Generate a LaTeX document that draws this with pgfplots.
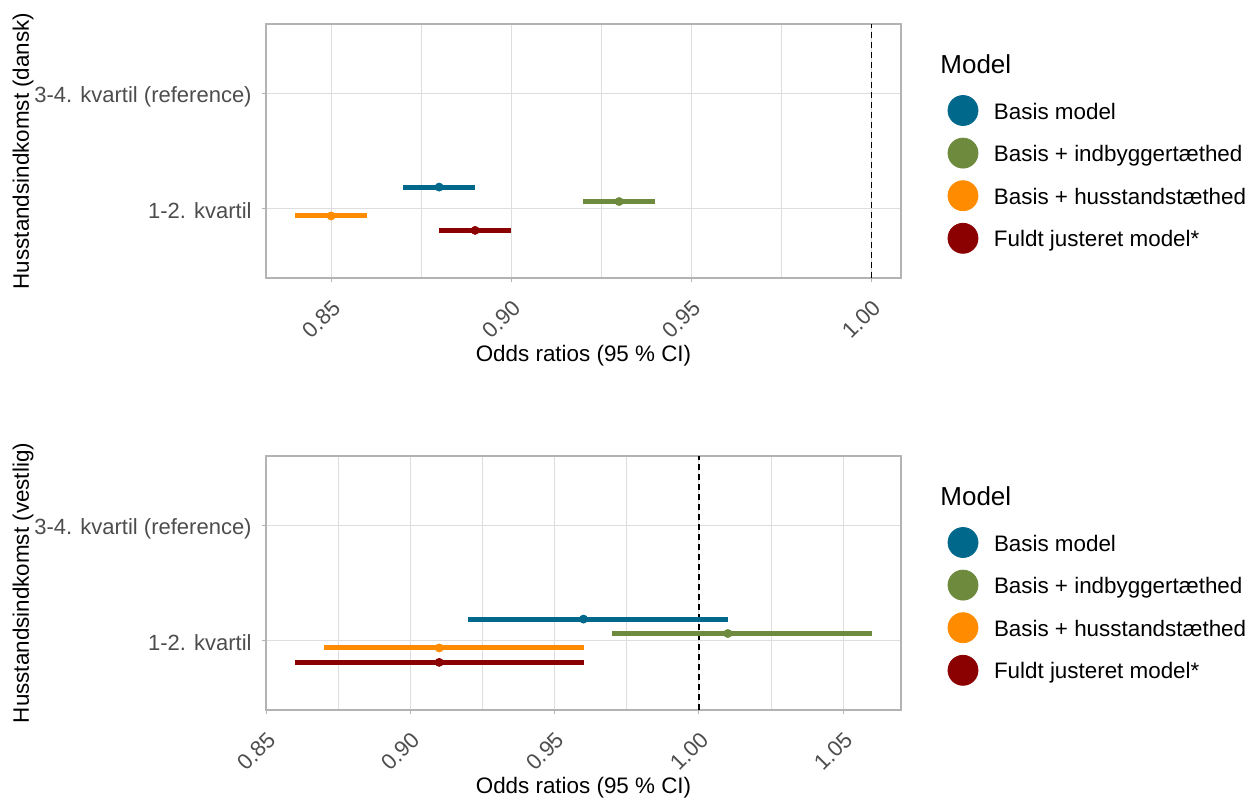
\documentclass[border=0pt]{standalone}
\usepackage{fontspec}
\setmainfont{Liberation Sans}
\usepackage{pgfplots}
\usepackage{pgfplotstable}
\pgfplotsset{compat=1.18}

\definecolor{cBasis}{RGB}{0,104,139}
\definecolor{cIndb}{RGB}{110,139,61}
\definecolor{cHus}{RGB}{255,140,0}
\definecolor{cFuld}{RGB}{139,0,0}
\definecolor{cGrid}{RGB}{222,222,222}
\definecolor{cBorder}{RGB}{179,179,179}
\definecolor{cTick}{RGB}{77,77,77}

% Odds ratios with 95 % CI; y = category (1 = 1-2. kvartil) plus dodge offset
\pgfplotstableread{
y or lo hi
1.1875 0.88 0.87 0.89
}\dkBasis
\pgfplotstableread{
y or lo hi
1.0625 0.93 0.92 0.94
}\dkIndb
\pgfplotstableread{
y or lo hi
0.9375 0.85 0.84 0.86
}\dkHus
\pgfplotstableread{
y or lo hi
0.8125 0.89 0.88 0.90
}\dkFuld

\pgfplotstableread{
y or lo hi
1.1875 0.96 0.92 1.01
}\veBasis
\pgfplotstableread{
y or lo hi
1.0625 1.01 0.97 1.06
}\veIndb
\pgfplotstableread{
y or lo hi
0.9375 0.91 0.87 0.96
}\veHus
\pgfplotstableread{
y or lo hi
0.8125 0.91 0.86 0.96
}\veFuld

\pgfplotsset{
  forest/.style={
    scale only axis, width=317.5pt, height=127pt,
    clip mode=individual,
    ymin=0.4, ymax=2.6, ytick={1,2},
    yticklabels={1-2. kvartil, 3-4. kvartil (reference)},
    axis line style={draw=cBorder, line width=0.55pt},
    minor x tick num=1,
    xmajorgrids, xminorgrids, ymajorgrids,
    major grid style={draw=cGrid, line width=0.5pt},
    minor grid style={draw=cGrid, line width=0.5pt},
    tick align=outside, major tick length=2pt, minor tick length=0pt,
    tick style={draw=cBorder, line width=0.5pt},
    tick pos=left,
    ticklabel style={font=\fontsize{11}{13}\selectfont, text=cTick},
    xticklabel style={rotate=45, anchor=north east, inner sep=0pt},
    xticklabel shift=8pt,
    yticklabel style={anchor=base east, inner sep=0pt, xshift=-5pt, yshift=-4.8pt},
    /pgf/number format/.cd, fixed, fixed zerofill, precision=2, assume math mode=true,
    /pgfplots/.cd,
    xlabel={Odds ratios (95 \% CI)},
    every axis x label/.style={at={(rel axis cs:0.5,-0.305)}, anchor=center,
      font=\fontsize{11.2}{13}\selectfont},
    every axis y label/.style={at={(rel axis cs:-0.3827,0.5)}, rotate=90, anchor=center,
      font=\fontsize{11.2}{13}\selectfont},
    legend cell align=left,
    legend style={at={(rel axis cs:1.074,0.689)}, anchor=north west, draw=none, fill=none,
      inner sep=0pt, outer sep=0pt, row sep=10.8pt,
      font=\fontsize{11.2}{13}\selectfont,
      nodes={inner sep=0pt, text height=8pt, text depth=2.5pt}},
  },
  ci/.style={only marks, mark=*, mark size=2pt, color=#1,
    error bars/.cd, x dir=both, x explicit, error mark=none,
    error bar style={line width=2.5pt, color=#1},
    /pgfplots/legend image code/.code={%
      \path[draw=none, fill=none] (0pt,0pt) -- (23pt,0pt);
      \fill[#1, overlay] (7.5pt,1.5pt) circle (7.5pt);}},
}

\newcommand{\ciplot}[2]{%
  \addplot[ci=#1] table[x=or, y=y,
    x error plus expr=\thisrow{hi}-\thisrow{or},
    x error minus expr=\thisrow{or}-\thisrow{lo}] {#2};}

\begin{document}
\begin{tikzpicture}
\path[use as bounding box] (0pt,0pt) rectangle (629pt,-399pt);

% Danish household income
\begin{axis}[forest, at={(133pt,-139pt)}, anchor=south west,
  xmin=0.8319, xmax=1.0083, xtick={0.85,0.90,0.95,1.00},
  ylabel={Husstandsindkomst (dansk)}]
  \addplot[black, dashed, dash pattern=on 3pt off 2pt, line width=0.6pt, forget plot]
    coordinates {(1,0.4) (1,2.6)};
  \ciplot{cBasis}{\dkBasis}
  \ciplot{cIndb}{\dkIndb}
  \ciplot{cHus}{\dkHus}
  \ciplot{cFuld}{\dkFuld}
  \legend{Basis model, Basis + indbyggertæthed, Basis + husstandstæthed, Fuldt justeret model*}
  \node[anchor=base west, inner sep=0pt, font=\fontsize{13}{15}\selectfont]
    at (rel axis cs:1.0614,0.807) {Model};
\end{axis}

% Western household income
\begin{axis}[forest, at={(133pt,-355pt)}, anchor=south west,
  xmin=0.85, xmax=1.07, xtick={0.85,0.90,0.95,1.00,1.05},
  ylabel={Husstandsindkomst (vestlig)}]
  \addplot[black, dashed, dash pattern=on 3pt off 2pt, line width=0.6pt, forget plot]
    coordinates {(1,0.4) (1,2.6)};
  \ciplot{cBasis}{\veBasis}
  \ciplot{cIndb}{\veIndb}
  \ciplot{cHus}{\veHus}
  \ciplot{cFuld}{\veFuld}
  \legend{Basis model, Basis + indbyggertæthed, Basis + husstandstæthed, Fuldt justeret model*}
  \node[anchor=base west, inner sep=0pt, font=\fontsize{13}{15}\selectfont]
    at (rel axis cs:1.0614,0.807) {Model};
\end{axis}
\end{tikzpicture}
\end{document}
